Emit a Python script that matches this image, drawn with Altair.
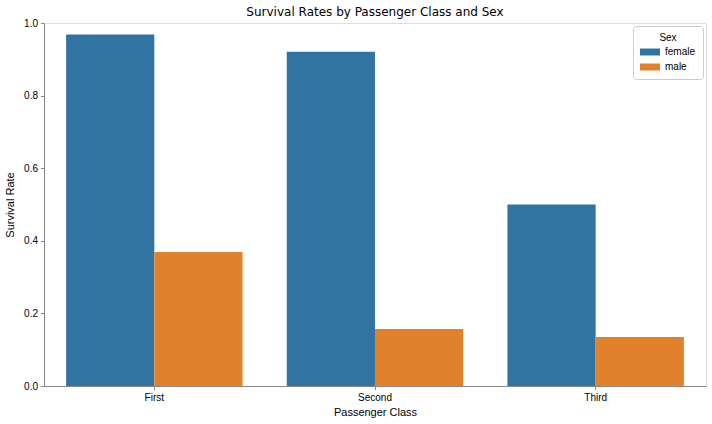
import altair as alt
import pandas as pd

classes = ["First", "First", "Second", "Second", "Third", "Third"]
sexes = ["female", "male", "female", "male", "female", "male"]
rates = [0.968, 0.369, 0.921, 0.157, 0.500, 0.135]

df = pd.DataFrame({"Passenger Class": classes, "Sex": sexes, "Survival Rate": rates})

FONT = "DejaVu Sans"

chart = alt.Chart(df).mark_bar(size=88.2).encode(
    x=alt.X("Passenger Class:N", sort=["First", "Second", "Third"],
            scale=alt.Scale(paddingInner=0.2, paddingOuter=0.1),
            axis=alt.Axis(labelAngle=0, title="Passenger Class", tickSize=3.5,
                          labelPadding=3, titlePadding=4, titleFontWeight="normal")),
    xOffset=alt.XOffset("Sex:N", sort=["female", "male"],
                        scale=alt.Scale(paddingInner=0, paddingOuter=0)),
    y=alt.Y("Survival Rate:Q", scale=alt.Scale(domain=[0, 1], nice=False),
            axis=alt.Axis(values=[0, 0.2, 0.4, 0.6, 0.8, 1.0], format=".1f",
                          title="Survival Rate", tickSize=3.5, labelPadding=3,
                          titlePadding=8, grid=False, titleFontWeight="normal")),
    color=alt.Color("Sex:N", sort=["female", "male"],
                    scale=alt.Scale(domain=["female", "male"], range=["#3274a1", "#e1812c"]),
                    legend=alt.Legend(title="Sex", orient="top-right", offset=3,
                                      titleAnchor="middle", titleFontWeight="normal",
                                      titleFontSize=10, labelFontSize=10,
                                      symbolType="M-1,-0.7h4v1.4h-4Z", symbolSize=100,
                                      symbolStrokeWidth=0, symbolOpacity=1,
                                      strokeColor="#cccccc", fillColor="white",
                                      padding=7, cornerRadius=3, rowPadding=5,
                                      labelOffset=15, titlePadding=4)),
).properties(
    width=662, height=363,
    title=alt.TitleParams("Survival Rates by Passenger Class and Sex", fontSize=12,
                          fontWeight="normal", anchor="middle", offset=-1, font=FONT,
                          color="black"),
    autosize=alt.AutoSizeParams(type="none"),
    padding={"left": 44, "top": 23, "right": 6, "bottom": 38},
).configure_view(
    stroke="black", strokeWidth=0.8
).configure_axis(
    labelFont=FONT, titleFont=FONT, labelFontSize=10, titleFontSize=10,
    labelColor="black", titleColor="black", titleFontWeight="normal",
    domainColor="black", domainWidth=0.8, tickColor="black", tickWidth=0.8
).configure_legend(
    labelFont=FONT, titleFont=FONT, labelColor="black", titleColor="black"
).configure(background="white")

chart.save("out.html", embed_options={"renderer": "svg", "actions": False})
